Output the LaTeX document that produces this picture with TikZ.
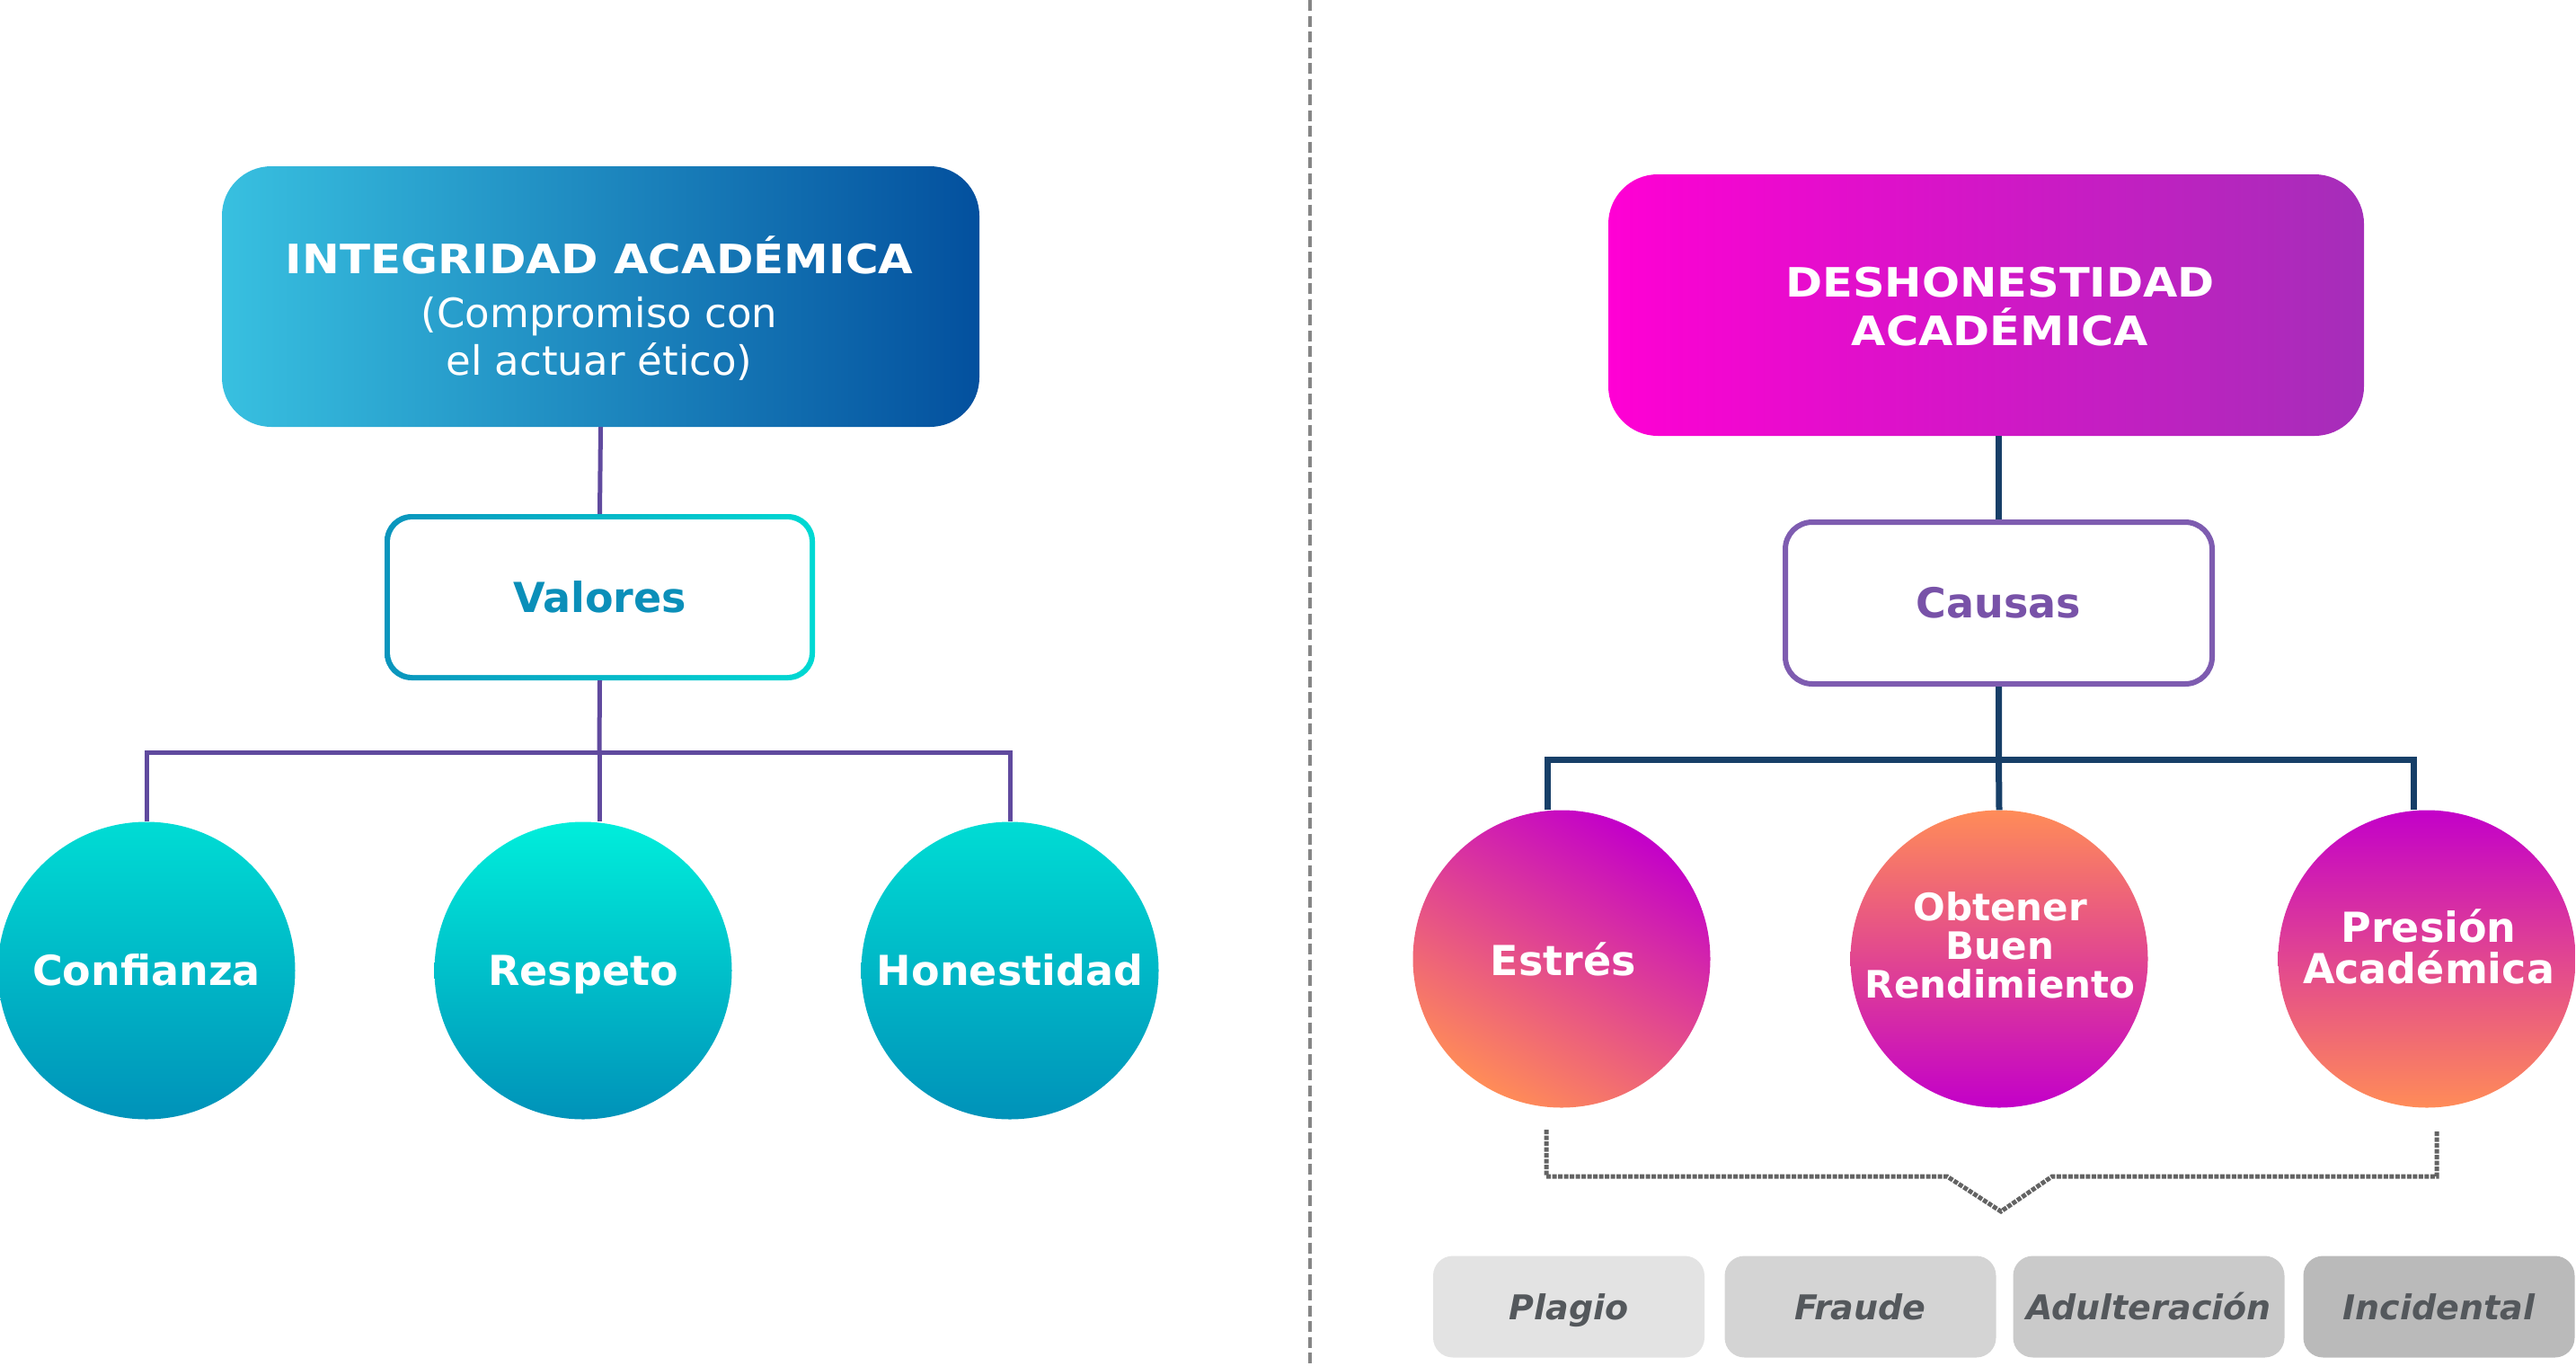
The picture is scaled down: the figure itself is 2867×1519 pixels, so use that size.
\documentclass[tikz,border=0pt]{standalone}
\usepackage{fontspec}
\setmainfont{DejaVu Sans}
\usetikzlibrary{calc}
\definecolor{tealL}{HTML}{38C0E0}
\definecolor{blueR}{HTML}{03509E}
\definecolor{valL}{HTML}{0A95BD}
\definecolor{valR}{HTML}{00D9D3}
\definecolor{valtext}{HTML}{0B8FB9}
\definecolor{purpline}{HTML}{604A9E}
\definecolor{tealtop}{HTML}{00DCD4}
\definecolor{tealtopb}{HTML}{00EEDB}
\definecolor{tealbot}{HTML}{0092B9}
\definecolor{magL}{HTML}{FF00D4}
\definecolor{magR}{HTML}{A52EB9}
\definecolor{navyline}{HTML}{173F68}
\definecolor{causasb}{HTML}{7E5CB0}
\definecolor{causastext}{HTML}{7852A8}
\definecolor{cmag}{HTML}{C300C9}
\definecolor{corange}{HTML}{FF8C58}
\definecolor{boxA}{HTML}{E3E3E3}
\definecolor{boxB}{HTML}{D4D4D4}
\definecolor{boxC}{HTML}{CACACA}
\definecolor{boxD}{HTML}{BABABA}
\definecolor{gtext}{HTML}{54585C}
\definecolor{dashgray}{HTML}{636363}
\definecolor{divgray}{HTML}{868686}
\begin{document}
\begin{tikzpicture}[x=1pt,y=1pt,
  purp/.style={draw=purpline, line width=5pt},
  navy/.style={draw=navyline, line width=7pt},
  tealcirc/.style={circle, minimum size=331pt, inner sep=0pt, top color=tealtop, bottom color=tealbot,
    text=white, text height=33.5pt, text depth=0pt, font=\fontsize{46}{50}\selectfont\bfseries},
  pinkcirc/.style={circle, minimum size=331pt, inner sep=0pt, text=white, align=center,
    font=\fontsize{46}{46}\selectfont\bfseries},
  greybox/.style={rounded corners=22pt, minimum width=302pt, minimum height=113pt, inner sep=0pt,
    text=gtext, text height=28pt, text depth=0pt, font=\fontsize{38}{40}\selectfont\bfseries\itshape},
  midlabel/.style={font=\fontsize{46}{50}\selectfont\bfseries}
]
\useasboundingbox (0,0) rectangle (2867,-1519);

% divider
\draw[draw=divgray, line width=3.5pt, dash pattern=on 12pt off 5.5pt] (1458,0) -- (1458,-1519);

% ---------- left side ----------
\node[rounded corners=55pt, minimum width=843pt, minimum height=290pt, inner sep=0pt,
      left color=tealL, right color=blueR] (itop) at (668.5,-330) {};
\node[text=white, align=center, font=\fontsize{45}{53}\selectfont] (itopt) at (667,-343)
  {{\bfseries\scalebox{1.11}[1]{INTEGRIDAD ACADÉMICA}}\\[7pt](Compromiso con\\el actuar ético)};

\node[rounded corners=30pt, minimum width=479pt, minimum height=185pt, inner sep=0pt,
      left color=valL, right color=valR] (val) at (667.5,-664.5) {};
\node[rounded corners=25pt, minimum width=467pt, minimum height=173pt, inner sep=0pt,
      fill=white, text=valtext, midlabel] (valin) at (val.center) {Valores};

\node[tealcirc] (conf) at (163,-1080) {Confianza};
\node[tealcirc, top color=tealtopb] (resp) at (649,-1080) {Respeto};
\node[tealcirc] (hon) at (1124,-1080) {Honestidad};

\coordinate (lbar) at (667,-837);
\draw[purp] (itop.south) -- (val.north);
\draw[purp] (val.south) -- (lbar);
\draw[purp] (lbar) -- (lbar |- resp.north);
\draw[purp] (conf.north) -- (conf.north |- lbar) -- (hon.north |- lbar) -- (hon.north);

% ---------- right side ----------
\node[rounded corners=55pt, minimum width=841pt, minimum height=291pt, inner sep=0pt,
      left color=magL, right color=magR] (dtop) at (2210.5,-339.5) {};
\node[text=white, align=center, font=\fontsize{45}{54}\selectfont\bfseries] (dtopt) at (2226,-341)
  {\scalebox{1.1}[1]{DESHONESTIDAD}\\\scalebox{1.1}[1]{ACADÉMICA}};

\node[rounded corners=30pt, minimum width=475pt, minimum height=180pt, inner sep=0pt,
      draw=causasb, line width=6pt, fill=white, text=causastext, midlabel] (causas) at (2224.5,-671) {Causas};

\node[pinkcirc, top color=cmag, bottom color=corange, shading angle=330] (estres) at (1738,-1067) {};
\node[pinkcirc, top color=corange, bottom color=cmag] (obt) at (2225,-1067) {};
\node[pinkcirc, top color=cmag, bottom color=corange] (pres) at (2701,-1067) {};
\node[text=white, align=center, font=\fontsize{46}{46}\selectfont\bfseries] (estrest) at (1740,-1067) {Estrés};
\node[text=white, align=center, font=\fontsize{42}{43}\selectfont\bfseries] (obtt) at (2226,-1052)
  {Obtener\\Buen\\Rendimiento};
\node[text=white, align=center, font=\fontsize{46}{46}\selectfont\bfseries] (prest) at (2703,-1053)
  {Presión\\Académica};

\coordinate (rbL) at (1722,-845);
\coordinate (rbR) at (2686,-845);
\draw[navy] (dtop.south -| causas.north) -- (causas.north);
\draw[navy] (causas.south) -- (causas.south |- rbL) -- (obt.north);
\draw[navy] (rbL |- estres.north) -- (rbL) -- (rbR) -- (rbR |- pres.north);

% dashed bracket
\coordinate (bL) at (1721,-1257);
\coordinate (bLc) at (1721,-1309);
\coordinate (bv1) at (2167,-1309);
\coordinate (btip) at (2227,-1348);
\coordinate (bv2) at (2284,-1309);
\coordinate (bRc) at (2712,-1309);
\coordinate (bR) at (2712,-1259);
\draw[draw=dashgray, line width=5pt, dash pattern=on 5pt off 1.5pt]
  (bL) -- (bLc) -- (bv1) -- (btip) -- (bv2) -- (bRc) -- (bR);

% bottom boxes
\node[greybox, fill=boxA] (plagio) at (1746,-1454) {Plagio};
\node[greybox, fill=boxB] (fraude) at (2070.5,-1454) {Fraude};
\node[greybox, fill=boxC] (adult) at (2391.5,-1454) {Adulteración};
\node[greybox, fill=boxD] (incid) at (2714.5,-1454) {Incidental};
\end{tikzpicture}
\end{document}
